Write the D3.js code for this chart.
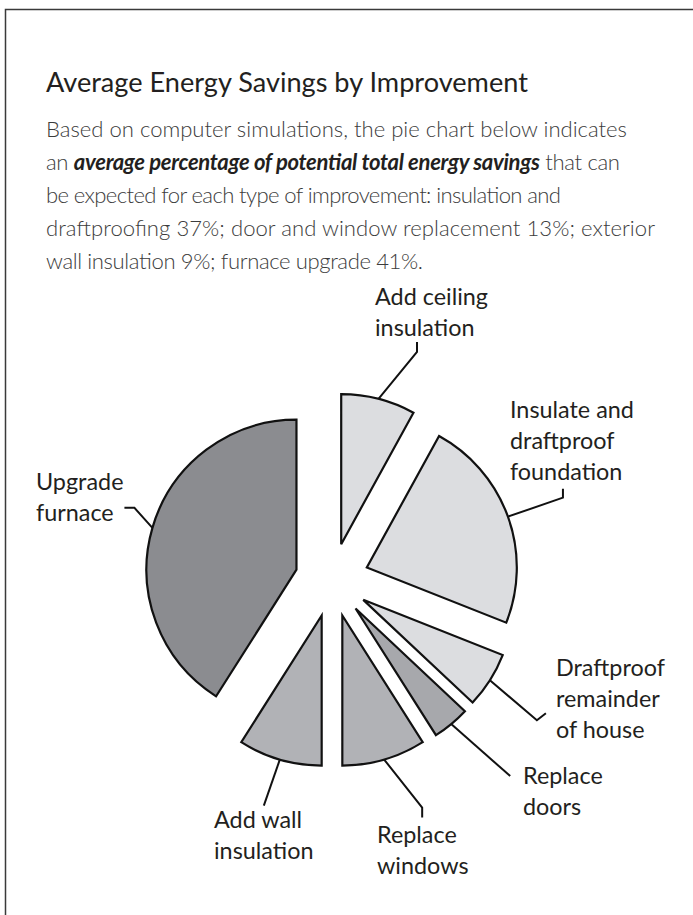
<!DOCTYPE html>
<html>
<head>
<meta charset="utf-8">
<script src="https://cdn.jsdelivr.net/npm/d3@7"></script>
<style>
  html, body { margin: 0; padding: 0; background: #fff; }
  svg { display: block; }
  text { font-family: Lato, "Open Sans", "Noto Sans", sans-serif; }
</style>
</head>
<body>
<svg id="chart" width="693" height="915"></svg>
<script>
// ---- data ----
const categories = [
  "Add ceiling insulation",
  "Insulate and draftproof foundation",
  "Draftproof remainder of house",
  "Replace doors",
  "Replace windows",
  "Add wall insulation",
  "Upgrade furnace"
];
const values = [8, 23, 6, 4, 9, 9, 41];
const labelLines = [
  ["Add ceiling", "insulation"],
  ["Insulate and", "draftproof", "foundation"],
  ["Draftproof", "remainder", "of house"],
  ["Replace", "doors"],
  ["Replace", "windows"],
  ["Add wall", "insulation"],
  ["Upgrade", "furnace"]
];
const titleText = "Average Energy Savings by Improvement";
const bodyLines = [
  [{t: "Based on computer simulations, the pie chart below indicates"}],
  [{t: "an "}, {t: "average percentage of potential total energy savings", b: true}, {t: " that can"}],
  [{t: "be expected for each type of improvement: insulation and"}],
  [{t: "draftproofing 37%; door and window replacement 13%; exterior"}],
  [{t: "wall insulation 9%; furnace upgrade 41%."}]
];

// ---- style / layout ----
const fills = ["#dcdde0", "#dcdde0", "#dcdde0", "#a7a8ac", "#b1b2b6", "#b1b2b6", "#8b8c90"];
const cx = 332, cy = 580, R = 150, explode = 37;
// leader geometry relative to the slice's outer-arc anchor: elbow then optional tail
const leaders = [
  {elbow: [38.5, -47], tail: [0, -10]},
  {elbow: [55, -19], tail: [0, -9]},
  {elbow: [47, 40], tail: [9, -7]},
  {elbow: [59, 52], tail: null},
  {elbow: [38, 48], tail: [0, 10]},
  {elbow: [-16, 46], tail: null},
  {elbow: [-18, -20], tail: [-10, 0]}
];
const labelPos = [
  {x: 375, y: 305},
  {x: 510, y: 418},
  {x: 556, y: 676},
  {x: 523, y: 784},
  {x: 377, y: 843},
  {x: 214, y: 828},
  {x: 36, y: 490}
];
const labelLH = 31;
const bodyWidths = [581, 574, 515, 609, 377];

const svg = d3.select("#chart");

// frame
svg.append("path")
  .attr("d", "M5.5,915 L5.5,9.5 L693,9.5")
  .attr("fill", "none").attr("stroke", "#3a3a3a").attr("stroke-width", 1.5);

function fit(sel, target) {
  const w = sel.node().getComputedTextLength();
  const fs = parseFloat(sel.attr("font-size"));
  return fs * target / w;
}

// title
const title = svg.append("text")
  .attr("x", 46).attr("y", 92)
  .attr("font-size", 28).attr("fill", "#231f20")
  .text(titleText);
title.attr("font-size", fit(title, 482));

// body
const bodyY0 = 137, bodyLH = 33;
const bodyG = svg.append("g");
const bodyTexts = bodyLines.map((segs, i) => {
  const t = bodyG.append("text")
    .attr("x", 46).attr("y", bodyY0 + i * bodyLH)
    .attr("font-size", 20).attr("fill", "#3c3c3c").attr("font-weight", 300);
  segs.forEach(s => {
    const ts = t.append("tspan").text(s.t);
    if (s.b) ts.attr("font-weight", 700).attr("font-style", "italic").attr("fill", "#231f20");
  });
  return t;
});
const bodyFs = fit(bodyTexts[0], 581);
bodyTexts.forEach((t, i) => {
  t.attr("font-size", bodyFs);
  t.attr("textLength", bodyWidths[i]).attr("lengthAdjust", "spacing");
});

// pie
const pie = d3.pie().sort(null).value(d => d).startAngle(0).endAngle(2 * Math.PI);
const arcs = pie(values);
const arc = d3.arc().innerRadius(0).outerRadius(R);

const g = svg.append("g").attr("transform", `translate(${cx},${cy})`);

arcs.forEach((a, i) => {
  const mid = (a.startAngle + a.endAngle) / 2;
  const ox = Math.sin(mid) * explode, oy = -Math.cos(mid) * explode;
  g.append("path")
    .attr("transform", `translate(${ox},${oy})`)
    .attr("d", arc(a))
    .attr("fill", fills[i])
    .attr("stroke", "#111")
    .attr("stroke-width", 2.2)
    .attr("stroke-linejoin", "miter");

  const ax = cx + Math.sin(mid) * (explode + R);
  const ay = cy - Math.cos(mid) * (explode + R);
  const L = leaders[i];
  const pts = [[ax, ay], [ax + L.elbow[0], ay + L.elbow[1]]];
  if (L.tail) pts.push([pts[1][0] + L.tail[0], pts[1][1] + L.tail[1]]);
  svg.append("path")
    .attr("d", d3.line()(pts))
    .attr("fill", "none").attr("stroke", "#111").attr("stroke-width", 2);
});

// labels
const labelG = svg.append("g");
let labelTexts = [];
labelLines.forEach((lines, i) => {
  lines.forEach((ln, j) => {
    const t = labelG.append("text")
      .attr("x", labelPos[i].x).attr("y", labelPos[i].y + j * labelLH)
      .attr("font-size", 22).attr("fill", "#231f20")
      .text(ln);
    labelTexts.push(t);
  });
});
const labelFs = fit(labelTexts[0], 113);
labelTexts.forEach(t => t.attr("font-size", labelFs));
</script>
</body>
</html>
